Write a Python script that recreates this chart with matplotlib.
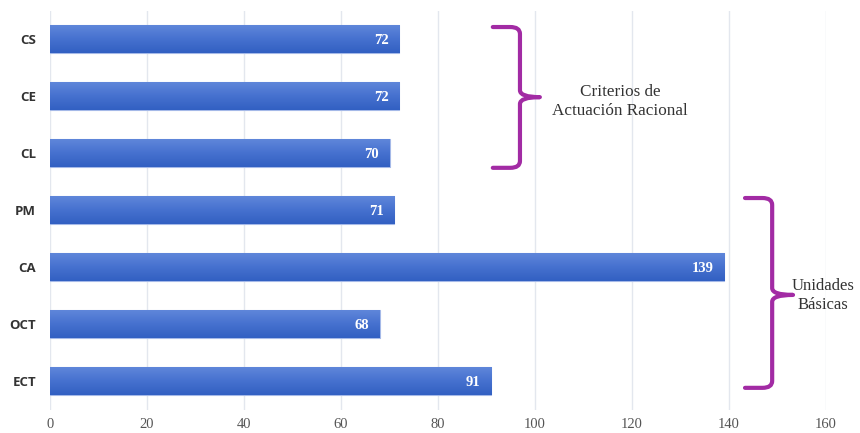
import matplotlib
matplotlib.use("Agg")
import matplotlib.pyplot as plt
import numpy as np
from matplotlib.path import Path
from matplotlib.patches import PathPatch
from matplotlib.colors import LinearSegmentedColormap

categories = ["CS", "CE", "CL", "PM", "CA", "OCT", "ECT"]
values = [72, 72, 70, 71, 139, 68, 91]
x_ticks = [0, 20, 40, 60, 80, 100, 120, 140, 160]

group_labels = ["Criterios de\nActuación Racional", "Unidades\nBásicas"]

fig = plt.figure(figsize=(8.6, 4.33), dpi=100)
ax = fig.add_axes([50 / 860, 1 - 409.5 / 433, 776 / 860, 399 / 433])

ypos = np.arange(len(categories))
bar_h = 0.48
cmap = LinearSegmentedColormap.from_list("bluegrad", ["#5f86da", "#4671cf", "#3260c2"])
grad = np.linspace(0, 1, 64).reshape(-1, 1)

bars = ax.barh(ypos, values, height=bar_h, color="#3f69c8",
               edgecolor="#a5b9e8", linewidth=0.8, zorder=2)
for rect, v, y in zip(bars, values, ypos):
    im = ax.imshow(grad, cmap=cmap, aspect="auto", origin="upper",
                   extent=(0, v, y + bar_h / 2, y - bar_h / 2), zorder=2.5)
    im.set_clip_path(rect)
    ax.text(v - 2.2, y + 0.03, str(v), ha="right", va="center", color="white",
            fontsize=10.5, fontweight="semibold", family="Liberation Serif", zorder=3)

ax.set_xlim(0, 160)
ax.set_ylim(len(categories) - 0.5, -0.5)
ax.set_xticks(x_ticks)
ax.set_xticklabels([str(t) for t in x_ticks], family="Liberation Serif",
                   fontsize=10.5, color="#555555")
ax.set_yticks(ypos)
ax.set_yticklabels(categories, fontweight="bold", family="Open Sans",
                   fontsize=9.5, color="#333333")
ax.tick_params(length=0)
ax.tick_params(axis="x", pad=6)
ax.tick_params(axis="y", pad=10)
ax.grid(axis="x", color="#e3e7ee", linewidth=1.0, zorder=0)
ax.set_axisbelow(True)
for s in ax.spines.values():
    s.set_visible(False)


def brace(x0, x1, xtip, ytop, ybot, ymid, r=0.12, rx=2.0):
    verts = [
        (x0, ytop), (x1 - rx, ytop), (x1, ytop), (x1, ytop + r),
        (x1, ymid - r), (x1, ymid), (xtip, ymid),
        (x1, ymid), (x1, ymid + r),
        (x1, ybot - r), (x1, ybot), (x1 - rx, ybot), (x0, ybot),
    ]
    codes = [
        Path.MOVETO, Path.LINETO, Path.CURVE3, Path.CURVE3,
        Path.LINETO, Path.CURVE3, Path.CURVE3,
        Path.CURVE3, Path.CURVE3,
        Path.LINETO, Path.CURVE3, Path.CURVE3, Path.LINETO,
    ]
    p = PathPatch(Path(verts, codes), fill=False, edgecolor="#a22ba4",
                  linewidth=3.0, capstyle="round", joinstyle="round",
                  clip_on=False, zorder=4)
    ax.add_patch(p)


brace(91.3, 96.9, 101.0, -0.21, 2.26, 1.02)
brace(143.3, 148.9, 153.2, 2.79, 6.12, 4.49)

ax.text(117.6, 1.1, group_labels[0], ha="center", va="center",
        family="Liberation Serif", fontsize=12.3, color="#333333", linespacing=1.25)
ax.text(159.4, 4.5, group_labels[1], ha="center", va="center",
        family="Liberation Serif", fontsize=12, color="#333333", linespacing=1.25,
        clip_on=False)

fig.savefig("out.png", dpi=100, facecolor="white")
